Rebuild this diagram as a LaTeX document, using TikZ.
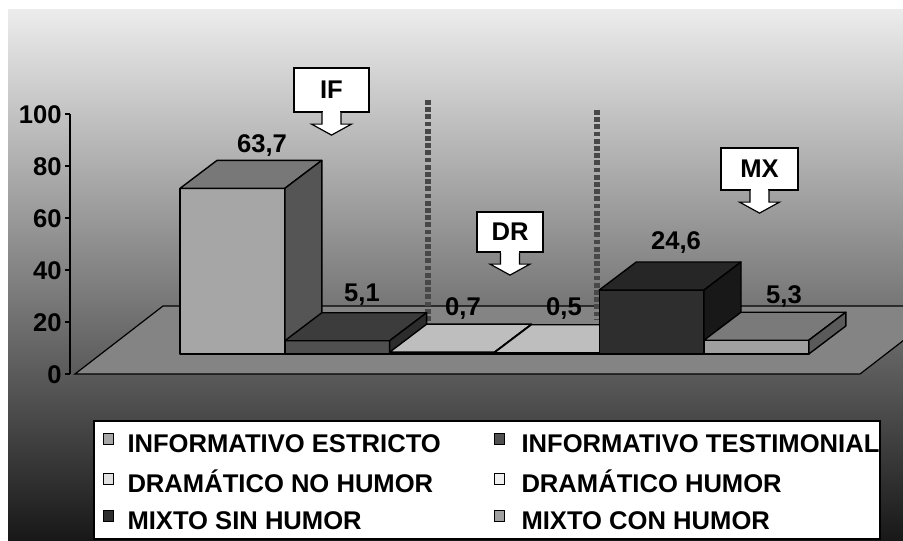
\documentclass[tikz,border=0pt]{standalone}
\usepackage{fontspec}
\setmainfont{Liberation Sans}
\usetikzlibrary{calc, positioning}

\definecolor{bgtop}{RGB}{236,236,236}
\definecolor{bgbottom}{RGB}{24,24,24}
\definecolor{floorgray}{RGB}{132,132,132}
\definecolor{sepgray}{RGB}{72,72,72}
% bar colours: front, top, side
\definecolor{ieF}{RGB}{166,166,166}\definecolor{ieT}{RGB}{120,120,120}\definecolor{ieS}{RGB}{85,85,85}
\definecolor{itF}{RGB}{80,80,80}\definecolor{itT}{RGB}{60,60,60}\definecolor{itS}{RGB}{44,44,44}
\definecolor{dnF}{RGB}{225,225,225}\definecolor{dnT}{RGB}{190,190,190}\definecolor{dnS}{RGB}{150,150,150}
\definecolor{dhF}{RGB}{240,240,240}\definecolor{dhT}{RGB}{190,190,190}\definecolor{dhS}{RGB}{150,150,150}
\definecolor{msF}{RGB}{46,46,46}\definecolor{msT}{RGB}{38,38,38}\definecolor{msS}{RGB}{24,24,24}
\definecolor{mcF}{RGB}{160,160,160}\definecolor{mcT}{RGB}{122,122,122}\definecolor{mcS}{RGB}{90,90,90}

% left x, value, colour prefix
\newcommand{\cuboid}[3]{%
  \pgfmathsetmacro{\xr}{#1+104.8}
  \pgfmathsetmacro{\yt}{354-2.6*#2}
  \filldraw[face, fill=#3F] (#1,354) rectangle (\xr,\yt);
  \filldraw[face, fill=#3T] (#1,\yt) -- ++(37,-28) -- ++(104.8,0) -- (\xr,\yt) -- cycle;
  \filldraw[face, fill=#3S] (\xr,\yt) -- ++(37,-28) -- (\xr+37,326) -- (\xr,354) -- cycle;
}
% arrow under a callout box
\newcommand{\calloutarrow}[1]{%
  \filldraw[pointer] ($(#1.south)+(-9.5,0)$) -- ++(0,11.5) -- ++(-10.5,0) -- ($(#1.south)+(0,22.5)$) -- ($(#1.south)+(20,11.5)$) -- ++(-10.5,0) -- ++(0,-11.5);
  \fill[white] ($(#1.south)+(-8.7,-1.5)$) rectangle ($(#1.south)+(8.7,0.5)$);
}

\begin{document}
\begin{tikzpicture}[
x=0.5pt, y=-0.5pt,
every node/.style={font=\fontsize{12.8}{15}\selectfont\bfseries, inner sep=0pt},
face/.style={
	draw=black,
	line width=0.7pt,
	line join=round
},
sep/.style={
	sepgray,
	line width=2.8pt,
	dash pattern=on 2.4pt off 1.2pt
},
callbox/.style={
	draw=black,
	fill=white,
	line width=0.6pt
},
pointer/.style={
	draw=black,
	fill=white,
	line width=0.6pt
},
val/.style={anchor=base},
key/.style={
	draw=black,
	line width=0.4pt,
	minimum size=5.2pt
},
keytext/.style={
	anchor=west,
	text height=9pt,
	text depth=0pt,
	yshift=-2pt
}
]

\useasboundingbox (0,0) rectangle (903,540);

% Background
\fill[white] (0,0) rectangle (903,540);
\shade[top color=bgtop, bottom color=bgbottom] (8,10) rectangle (903,540);

% Floor
\begin{scope}
\clip (0,0) rectangle (903,540);
\filldraw[fill=floorgray, draw=black, line width=0.6pt] (75,374) -- (163,306) -- (948,306) -- (860,374) -- cycle;
\end{scope}

% Axis
\draw[line width=0.6pt] (70,114) -- (70,374);
\foreach \v in {0,20,...,100} {
	\draw[line width=0.6pt] (65,374-2.6*\v) -- (70,374-2.6*\v);
	\node[anchor=base east] (tick\v) at (62,383-2.6*\v) {\v};
}

% Separators
\draw[sep] (428,100) -- (428,322);
\draw[sep] (597,110) -- (597,320);

% Bars
\cuboid{180}{63.7}{ie}
\cuboid{284.8}{5.1}{it}
\cuboid{389.6}{0.7}{dn}
\cuboid{494.4}{0.5}{dh}
\cuboid{599.2}{24.6}{ms}
\cuboid{704}{5.3}{mc}

% Values
\node[val] (vIE) at (262,152) {63,7};
\node[val] (vIT) at (362,301) {5,1};
\node[val] (vDN) at (463,315) {0,7};
\node[val] (vDH) at (564,315) {0,5};
\node[val] (vMS) at (676,249) {24,6};
\node[val] (vMC) at (784,303) {5,3};

% Callouts
\node[callbox, minimum width=37.5pt, minimum height=22pt] (IF) at (331.5,90) {IF};
\calloutarrow{IF}
\node[callbox, minimum width=33pt, minimum height=20pt] (DR) at (510,232) {DR};
\calloutarrow{DR}
\node[callbox, minimum width=38.5pt, minimum height=21pt] (MX) at (759.5,169) {MX};
\calloutarrow{MX}

% Legend
\draw[fill=white, line width=0.6pt] (94,421) rectangle (880,539);
\node[key, fill=ieF] (kIE) at (108.5,439) {};
\node[keytext, right=6.5pt of kIE] (tIE) {INFORMATIVO ESTRICTO};
\node[key, fill=dnF] (kDN) at (108.5,479) {};
\node[keytext, right=6.5pt of kDN] (tDN) {DRAMÁTICO NO HUMOR};
\node[key, fill=msF] (kMS) at (108.5,516) {};
\node[keytext, right=6.5pt of kMS] (tMS) {MIXTO SIN HUMOR};
\node[key, fill=itF] (kIT) at (499.5,439) {};
\node[keytext, right=8pt of kIT] (tIT) {INFORMATIVO TESTIMONIAL};
\node[key, fill=dhF] (kDH) at (499.5,479) {};
\node[keytext, right=8pt of kDH] (tDH) {DRAMÁTICO HUMOR};
\node[key, fill=mcF] (kMC) at (499.5,516) {};
\node[keytext, right=8pt of kMC] (tMC) {MIXTO CON HUMOR};

\end{tikzpicture}
\end{document}
